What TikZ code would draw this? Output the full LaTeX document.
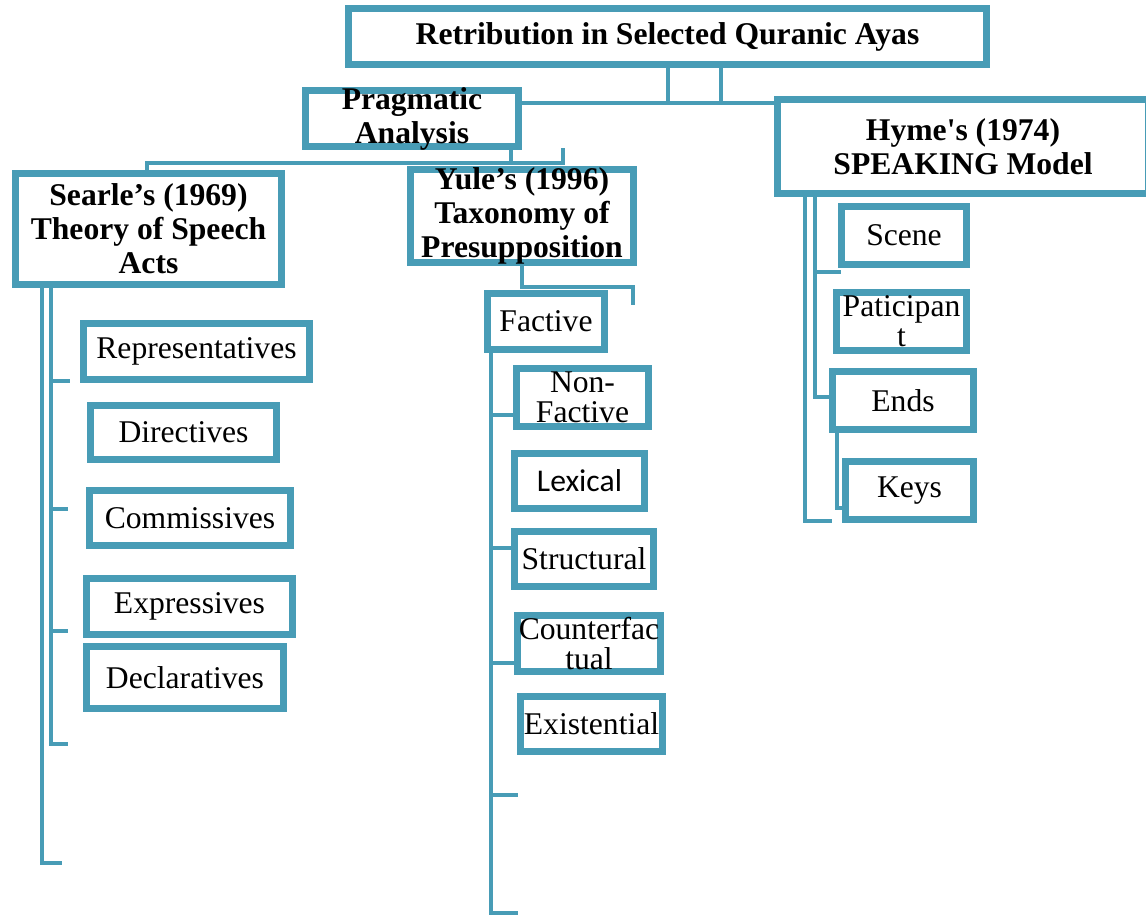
\documentclass[tikz,border=0pt]{standalone}
\usepackage{fontspec}
\setmainfont{Liberation Serif}
\newfontfamily\calibrifont{Carlito}
\usetikzlibrary{shadows}
\definecolor{smartblue}{RGB}{72,156,182}

\begin{document}
\begin{tikzpicture}[
    x=0.02cm, y=-0.02cm,
    box/.style={rectangle, draw=smartblue, line width=4.2pt, fill=white, inner sep=0pt, align=center,
        drop shadow={shadow xshift=1pt, shadow yshift=-1.5pt, opacity=0.3}},
    boxsize/.style 2 args={minimum width=#1*0.02cm, minimum height=#2*0.02cm},
    head/.style={font=\fontsize{18}{19.3}\selectfont\bfseries, align=center, inner sep=0pt},
    leaf/.style={font=\fontsize{18}{17}\selectfont, align=center, inner sep=0pt},
    conn/.style={draw=smartblue, line width=2.6pt}
]
\useasboundingbox (0,0) rectangle (1146,917);

% Top
\node[box, boxsize={638}{56}, head] (title) at (667.5,36.5) {Retribution in Selected Quranic Ayas};

% Second level
\node[box, boxsize={213}{56}] (prag) at (412,118.5) {};
\node[head] (prag-t) at (prag) {Pragmatic\\Analysis};
\node[box, boxsize={371}{94}, head] (hyme) at (963,146.5) {Hyme\textquotesingle s (1974)\\SPEAKING Model};

% Theories
\node[box, boxsize={266}{111}, head] (searle) at (148.5,229) {Searle’s (1969)\\Theory of Speech\\Acts};
\node[box, boxsize={223}{93}] (yule) at (522,216) {};
\node[head] (yule-t) at (yule) {Yule’s (1996)\\Taxonomy of\\Presupposition};

% Speech acts
\node[box, boxsize={226}{56}, leaf] (rep) at (196.5,351.5) {Representatives};
\node[box, boxsize={186}{54}, leaf] (dir) at (183.5,432.5) {Directives};
\node[box, boxsize={201}{55}, leaf] (com) at (190,518) {Commissives};
\node[box, boxsize={206}{56}, leaf] (exp) at (189.5,606.5) {Expressives};
\node[box, boxsize={197}{62}, leaf] (dec) at (185,677.5) {Declaratives};

% Presupposition types
\node[box, boxsize={117}{56}, leaf] (fac) at (546,321.5) {Factive};
\node[box, boxsize={132}{58}] (nonf) at (582.5,397.5) {};
\node[leaf] (nonf-t) at (nonf) {Non-\\Factive};
\node[box, boxsize={130}{55}, leaf, font={\calibrifont\fontsize{18}{20}\selectfont}] (lex) at (579.5,481) {Lexical};
\node[box, boxsize={139}{55}, leaf] (str) at (584,559) {Structural};
\node[box, boxsize={143}{56}] (cnt) at (589,643.5) {};
\node[leaf] (cnt-t) at (cnt) {Counterfac\\tual};
\node[box, boxsize={142}{55}, leaf] (exi) at (591.5,724) {Existential};

% SPEAKING components
\node[box, boxsize={125}{58}, leaf] (scene) at (904,235.5) {Scene};
\node[box, boxsize={130}{58}] (pati) at (901.5,321.5) {};
\node[leaf] (pati-t) at (pati) {Paticipan\\t};
\node[box, boxsize={141}{58}, leaf] (ends) at (903,400.5) {Ends};
\node[box, boxsize={128}{58}, leaf] (keys) at (909.5,490.5) {Keys};

% Title connectors
\coordinate (t1) at (668,103);
\coordinate (t2) at (721,103);
\draw[conn] (title.south -| t1) -- (t1) -- (t2) -- (title.south -| t2);
\draw[conn] (prag.east |- t1) -- (hyme.west |- t1);

% Pragmatic connectors
\coordinate (p1) at (511,163);
\coordinate (p2) at (147,163);
\coordinate (p3) at (563,163);
\coordinate (p4) at (563,148);
\draw[conn] (prag.south -| p1) -- (p1);
\draw[conn] (searle.north -| p2) -- (p2) -- (p3) -- (p4);

% Searle branches
\coordinate (s0) at (42,863);
\coordinate (s0e) at (62,863);
\coordinate (s1) at (51,744);
\foreach \n/\y/\e in {a/381/70, b/509/68, c/631/68, d/744/68}
    \coordinate (s-\n) at (\e,\y);
\draw[conn] (searle.south -| s0) -- (s0) -- (s0e);
\draw[conn] (searle.south -| s1) -- (s1) -- (s-d);
\foreach \n in {a,b,c}
    \draw[conn] (s1 |- s-\n) -- (s-\n);

% Yule branches
\coordinate (y0) at (522,287);
\coordinate (y1) at (633,305);
\draw[conn] (yule.south -| y0) -- (y0) -| (y1);
\coordinate (f0) at (491,913);
\foreach \n/\y/\e in {a/415/515, b/548/514, c/663/518, d/795/518, e/913/518}
    \coordinate (f-\n) at (\e,\y);
\draw[conn] (fac.south -| f0) -- (f0) -- (f-e);
\foreach \n in {a,b,c,d}
    \draw[conn] (f0 |- f-\n) -- (f-\n);

% Hyme branches
\coordinate (h0) at (805,521);
\coordinate (h0e) at (832,521);
\coordinate (h1) at (815,397);
\coordinate (h1a) at (841,272);
\coordinate (h2) at (837,508);
\coordinate (h2e) at (846,508);
\draw[conn] (hyme.south -| h0) -- (h0) -- (h0e);
\draw[conn] (hyme.south -| h1) -- (h1) -- (ends.west |- h1);
\draw[conn] (h1 |- h1a) -- (h1a);
\draw[conn] (ends.south -| h2) -- (h2) -- (h2e);

\end{tikzpicture}
\end{document}
